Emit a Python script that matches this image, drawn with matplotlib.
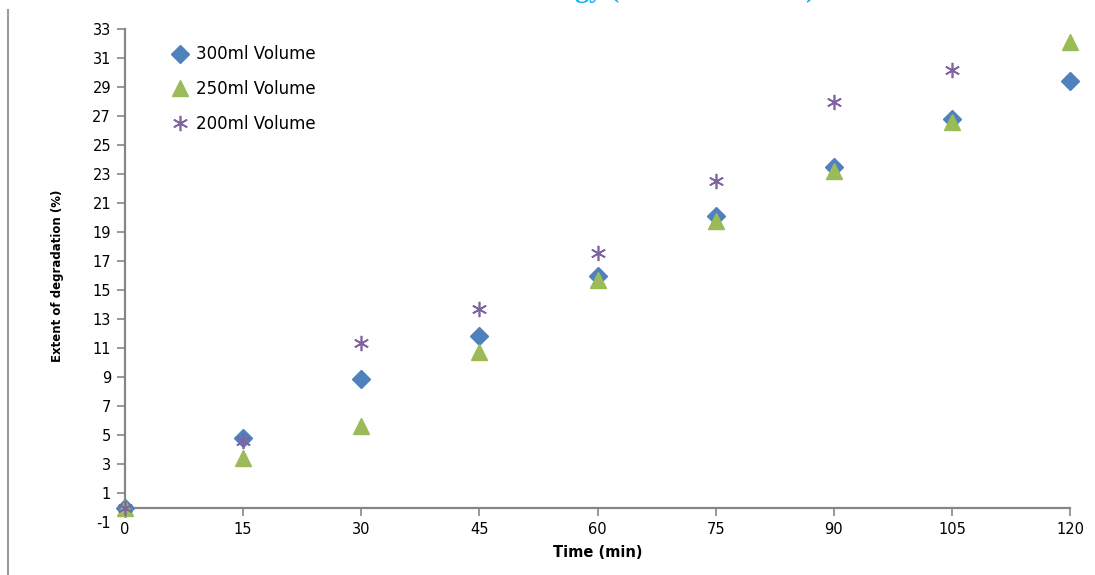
import numpy as np
import matplotlib.pyplot as plt
from matplotlib.lines import Line2D

plt.rcParams['axes.unicode_minus'] = False

# data
time_min = [0, 15, 30, 45, 60, 75, 90, 105, 120]
vol_300 = [0, 4.8, 8.9, 11.85, 16.0, 20.1, 23.5, 26.8, 29.4]
vol_250 = [0, 3.45, 5.65, 10.75, 15.7, 19.75, 23.2, 26.6, 32.1]
time_200 = [0, 15, 30, 45, 60, 75, 90, 105]
vol_200 = [0, 4.6, 11.37, 13.7, 17.6, 22.5, 28.0, 30.2]

series_labels = ['300ml Volume', '250ml Volume', '200ml Volume']
x_ticks = [0, 15, 30, 45, 60, 75, 90, 105, 120]
y_ticks = list(range(-1, 34, 2))

axis_grey = '#868686'

fig = plt.figure(figsize=(10.95, 5.75), dpi=100)
ax = fig.add_axes([125 / 1095, 1 - 522.5 / 575, 945 / 1095, 493.5 / 575])

ax.plot(time_min, vol_300, linestyle='none', marker='D', ms=9, color='#4F81BD',
        label=series_labels[0], clip_on=False, zorder=3)
ax.plot(time_min, vol_250, linestyle='none', marker='^', ms=11, color='#9BBB59',
        label=series_labels[1], clip_on=False, zorder=4)
ax.plot(time_200, vol_200, linestyle='none', marker=(6, 2, 0), ms=11, mew=1.2,
        color='#8064A2', label=series_labels[2], clip_on=False, zorder=5)

ax.set_xlim(0, 120)
ax.set_ylim(-1, 33)
ax.set_xticks(x_ticks)
ax.set_yticks(y_ticks)

# horizontal axis crosses at zero, as in the original spreadsheet chart
ax.spines['bottom'].set_position(('data', 0))
ax.spines['left'].set_bounds(0, 33)
for side in ['top', 'right']:
    ax.spines[side].set_visible(False)
for side in ['bottom', 'left']:
    ax.spines[side].set_color(axis_grey)
    ax.spines[side].set_linewidth(1.6)

ax.tick_params(axis='both', direction='out', color=axis_grey, width=1.2,
               length=6, labelsize=10.5, pad=4)
ax.yaxis.get_major_ticks()[0].tick1line.set_visible(False)

ax.set_xlabel('Time (min)', fontsize=10.5, fontweight='bold')
ax.xaxis.set_label_coords(0.5, -0.045)
ax.set_ylabel('Extent of degradation (%)', fontsize=8.5, fontweight='bold')
ax.yaxis.set_label_coords(-0.065, 0.5)

ax.legend(loc='upper left', bbox_to_anchor=(163 / 1095, 1 - 37 / 575),
          bbox_transform=fig.transFigure, frameon=False, fontsize=12,
          handlelength=1.0, handletextpad=0.5, labelspacing=1.0, borderpad=0)

# title cut off at the top of the source image, only descenders show
fig.text(815 / 1095, 1 + 3 / 575, 'Effect of Volume under Solar Energy (Solar Radiation)',
         ha='right', va='baseline', fontsize=20, fontweight='bold',
         family='Liberation Serif', color='#1AAEF0')

# left border of the source image
fig.add_artist(Line2D([8 / 1095, 8 / 1095], [0, 1 - 10 / 575], transform=fig.transFigure,
                      color='#9a9a9a', lw=1.5))

fig.savefig('out.png', dpi=100)
